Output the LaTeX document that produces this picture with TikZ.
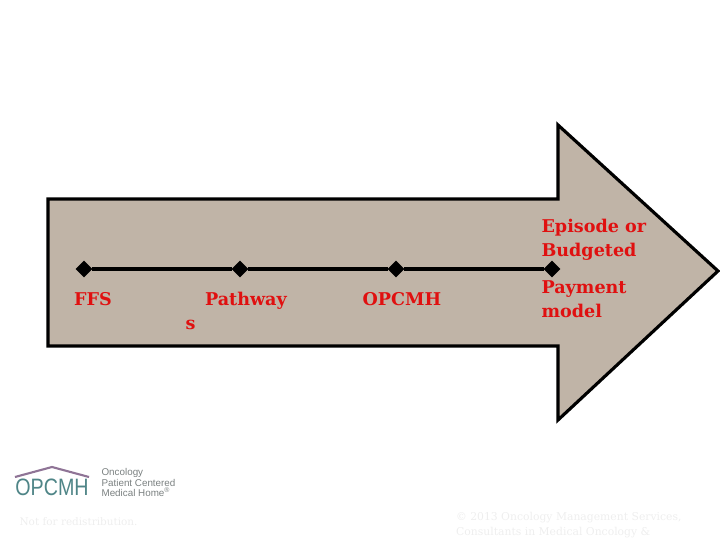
\documentclass[tikz,border=0pt]{standalone}
\usepackage{fontspec}
\setmainfont{DejaVu Serif}
\setsansfont{Liberation Sans}
\usetikzlibrary{shapes.geometric}
\definecolor{arrowfill}{HTML}{C0B4A7}
\definecolor{labelred}{HTML}{E01010}
\definecolor{logoteal}{HTML}{4F8587}
\definecolor{logopurple}{HTML}{8F7496}
\definecolor{logogray}{HTML}{7A8080}
\definecolor{faintgray}{HTML}{EEEEEE}
\tikzset{
  marker/.style={diamond,fill=black,inner sep=0pt,outer sep=0pt,minimum size=9.5pt},
  phase/.style={text=labelred,font=\bfseries\fontsize{10}{13.5}\selectfont,align=left,anchor=west,inner sep=0pt},
  footnote/.style={text=faintgray,align=left,anchor=west,inner sep=0pt},
  logotext/.style={text=logogray,font=\sffamily\fontsize{5.6}{6}\selectfont,align=left,anchor=west,inner sep=0pt}
}
\begin{document}
\begin{tikzpicture}[x=0.02cm,y=-0.02cm,line width=1.8pt]
  \useasboundingbox (0,0) rectangle (720,540);
  \draw[fill=arrowfill,line join=miter] (48,199) -- (558,199) -- (558,125) -- (718,271)
    -- (558,420) -- (558,346) -- (48,346) -- cycle;
  \node[marker] (ffs) at (84,269) {};
  \node[marker] (path) at (240,269) {};
  \node[marker] (home) at (396,269) {};
  \node[marker] (episode) at (552,269) {};
  \draw[line width=2pt] (ffs.east) -- (path.west);
  \draw[line width=2pt] (path.east) -- (home.west);
  \draw[line width=2pt] (home.east) -- (episode.west);
  \node[phase] (ffslabel) at (72.5,299) {FFS};
  \node[phase] (pathlabel) at (203.5,301) {Pathway};
  \node[phase] (pathtail) at (184,325) {s};
  \node[phase] (homelabel) at (361,299) {OPCMH};
  \node[phase] (budget) at (540,240) {Episode or\\Budgeted};
  \node[phase] (payment) at (540,299) {Payment\\model};
  % logo
  \draw[logopurple,line width=1.2pt] (15,477) -- (52,467) -- (89,477);
  \node[text=logoteal,font=\sffamily\fontsize{13.5}{13.5}\selectfont,inner sep=0pt,xscale=0.83] (logo) at (52,487.5) {OPCMH};
  \node[logotext] (logoline) at (100,482.5) {Oncology\\Patient Centered\\Medical Home\textsuperscript{®}};
  \node[footnote,font=\fontsize{5.95}{8.5}\selectfont] (redist) at (18,522) {Not for redistribution.};
  \node[footnote,font=\fontsize{6.15}{8.5}\selectfont] (copy) at (454.5,525.5) {© 2013 Oncology Management Services,\\Consultants in Medical Oncology \&};
\end{tikzpicture}
\end{document}
